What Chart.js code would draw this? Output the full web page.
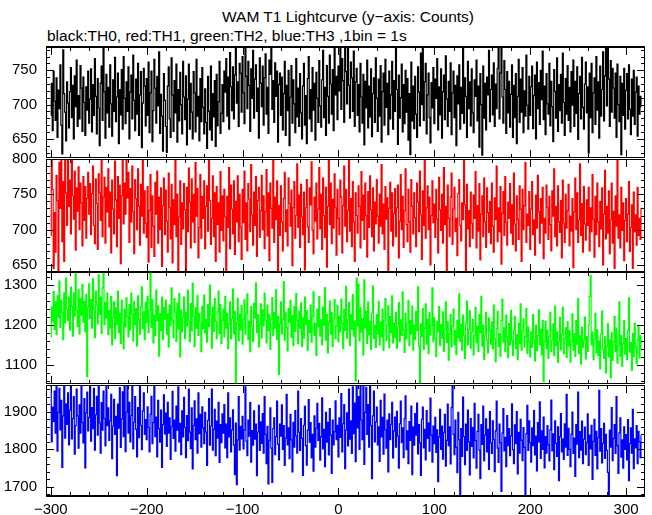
<!DOCTYPE html>
<html>
<head>
<meta charset="utf-8">
<script src="https://cdn.jsdelivr.net/npm/chart.js@4.4.0/dist/chart.umd.min.js"></script>
<style>
  html, body { margin: 0; padding: 0; background: #fff; }
  #wrap { position: relative; width: 652px; height: 515px; overflow: hidden; }
  #wrap canvas { position: absolute; left: 0; top: 0; }
  .ttl { position: absolute; font-family: "Liberation Sans", Arial, sans-serif; font-size: 15.5px; color: #000; white-space: nowrap; }
</style>
</head>
<body>
<div id="wrap">
  <div class="ttl" style="left:0;width:696px;text-align:center;top:8px;">WAM T1 Lightcurve (y&#8722;axis: Counts)</div>
  <div class="ttl" style="left:47px;top:27px;">black:TH0, red:TH1, green:TH2, blue:TH3 ,1bin = 1s</div>
  <canvas id="c0" width="652" height="515"></canvas>
  <canvas id="c1" width="652" height="515"></canvas>
  <canvas id="c2" width="652" height="515"></canvas>
  <canvas id="c3" width="652" height="515"></canvas>
</div>
<script>
// 1 bin = 1 s, first bin at -300 s
const tStart = -300;

// TH0 (black)
const th0 = [
  684, 731, 662, 748, 705, 677, 739, 652, 721, 694, 758, 670, 628, 780, 716, 689, 647, 733, 702, 666,
  719, 754, 681, 728, 650, 742, 697, 765, 668, 713, 679, 757, 724, 661, 740, 703, 655, 726, 692, 749,
  673, 708, 752, 660, 729, 684, 767, 712, 657, 738, 695, 640, 731, 756, 677, 784, 719, 651, 744, 688,
  725, 667, 758, 701, 654, 736, 690, 769, 675, 711, 746, 643, 722, 685, 751, 664, 770, 709, 672, 733,
  690, 755, 650, 718, 743, 679, 772, 706, 662, 737, 686, 760, 655, 714, 748, 637, 702, 753, 727, 669,
  738, 684, 762, 659, 717, 749, 646, 691, 766, 724, 673, 741, 698, 777, 658, 715, 683, 632, 745, 706,
  668, 630, 727, 755, 679, 652, 768, 714, 661, 735, 688, 759, 645, 722, 676, 747, 700, 657, 763, 711,
  678, 742, 641, 708, 759, 664, 731, 689, 650, 748, 717, 660, 766, 683, 712, 647, 738, 675, 754, 696,
  657, 723, 674, 636, 741, 690, 663, 756, 648, 716, 682, 735, 639, 744, 669, 704, 763, 658, 687, 729,
  675, 749, 718, 767, 683, 740, 664, 776, 726, 691, 755, 679, 743, 784, 702, 733, 668, 760, 746, 689,
  770, 717, 672, 784, 741, 694, 763, 728, 661, 752, 709, 779, 680, 737, 758, 690, 724, 651, 768, 731,
  697, 756, 670, 739, 774, 686, 725, 658, 765, 744, 784, 693, 735, 674, 761, 712, 749, 645, 729, 746,
  684, 740, 663, 716, 763, 655, 728, 691, 750, 640, 711, 757, 673, 736, 701, 659, 767, 682, 724, 668,
  745, 688, 650, 727, 760, 670, 713, 643, 738, 770, 679, 722, 661, 754, 692, 731, 648, 747, 709, 674,
  764, 698, 667, 736, 779, 681, 725, 655, 757, 712, 673, 772, 730, 686, 751, 662, 784, 714, 741, 678,
  756, 720, 784, 693, 767, 735, 674, 784, 748, 701, 784, 728, 680, 762, 739, 690, 778, 668, 733, 753,
  684, 729, 660, 760, 711, 673, 744, 641, 734, 695, 765, 666, 727, 682, 752, 653, 716, 739, 674, 768,
  709, 661, 737, 683, 757, 645, 719, 746, 670, 766, 696, 731, 656, 749, 679, 714, 763, 664, 735, 690,
  784, 722, 642, 743, 680, 710, 759, 660, 729, 672, 750, 689, 738, 648, 716, 627, 762, 676, 727, 665,
  741, 686, 652, 755, 718, 669, 775, 700, 784, 677, 733, 760, 657, 714, 746, 681, 644, 732, 695, 754,
  672, 737, 709, 767, 663, 726, 685, 752, 651, 719, 743, 678, 771, 708, 668, 734, 690, 761, 656, 717,
  749, 681, 728, 640, 742, 701, 758, 664, 725, 687, 784, 673, 739, 712, 652, 763, 694, 733, 669, 752,
  688, 659, 736, 712, 765, 676, 727, 638, 745, 700, 626, 756, 680, 731, 663, 740, 714, 779, 675, 722,
  743, 685, 761, 668, 730, 694, 753, 784, 679, 746, 784, 711, 673, 764, 722, 658, 748, 688, 734, 667,
  715, 758, 652, 728, 681, 745, 643, 712, 766, 674, 737, 689, 754, 659, 720, 683, 772, 699, 664, 741,
  684, 726, 756, 665, 713, 743, 650, 762, 694, 732, 671, 750, 707, 778, 678, 727, 656, 745, 701, 686,
  760, 669, 734, 697, 646, 751, 719, 680, 768, 661, 729, 691, 744, 673, 775, 703, 655, 738, 686, 757,
  677, 725, 660, 748, 699, 765, 668, 734, 687, 755, 649, 716, 741, 679, 769, 696, 664, 730, 762, 688,
  726, 629, 746, 681, 760, 659, 717, 739, 671, 770, 692, 733, 651, 756, 683, 722, 777, 676, 742, 784,
  698, 784, 737, 668, 764, 689, 753, 724, 680, 746, 652, 759, 700, 675, 741, 627, 731, 684, 753, 664,
  721, 745, 679, 758, 693, 656, 737, 683, 750, 671, 718, 740, 654, 727, 686, 712, 697
];

// TH1 (red)
const th1 = [
  692, 800, 757, 645, 724, 668, 777, 741, 640, 795, 730, 800, 683, 768, 655, 800, 752, 706, 800, 733,
  770, 694, 800, 748, 715, 783, 671, 759, 726, 789, 700, 766, 738, 677, 775, 713, 761, 688, 744, 781,
  722, 765, 693, 751, 790, 706, 680, 772, 737, 672, 779, 752, 713, 800, 690, 746, 774, 681, 760, 725,
  786, 704, 753, 667, 770, 729, 694, 797, 742, 676, 775, 716, 763, 652, 748, 800, 708, 766, 722, 800,
  745, 781, 682, 758, 711, 790, 725, 666, 771, 744, 700, 786, 733, 678, 764, 719, 800, 695, 755, 709,
  689, 761, 654, 727, 778, 675, 748, 705, 662, 767, 722, 783, 681, 746, 700, 759, 648, 734, 773, 693,
  756, 712, 668, 780, 731, 687, 764, 653, 742, 707, 800, 690, 750, 641, 718, 769, 679, 738, 701, 765,
  728, 640, 760, 697, 787, 739, 674, 772, 711, 750, 682, 795, 719, 758, 660, 703, 778, 688, 747, 716,
  769, 673, 733, 762, 698, 800, 741, 679, 716, 776, 690, 752, 655, 761, 707, 738, 668, 782, 699, 748,
  684, 757, 718, 640, 747, 703, 788, 673, 763, 729, 694, 769, 665, 740, 711, 776, 683, 750, 704, 658,
  757, 710, 783, 686, 738, 670, 765, 743, 697, 792, 721, 678, 753, 706, 775, 662, 741, 760, 689, 727,
  777, 700, 748, 673, 725, 785, 691, 752, 656, 766, 730, 702, 800, 682, 746, 714, 769, 640, 734, 692,
  762, 711, 670, 744, 781, 697, 728, 677, 773, 737, 705, 756, 649, 731, 768, 688, 720, 793, 703, 749,
  675, 764, 718, 693, 753, 643, 731, 771, 704, 682, 759, 735, 796, 699, 666, 746, 712, 766, 687, 729,
  788, 701, 750, 672, 773, 720, 689, 760, 647, 733, 800, 707, 766, 680, 743, 702, 779, 731, 664, 757,
  716, 693, 770, 746, 667, 734, 790, 705, 757, 683, 727, 800, 698, 744, 676, 768, 711, 655, 752, 720,
  695, 762, 733, 674, 782, 713, 749, 686, 766, 720, 661, 754, 703, 776, 728, 690, 759, 670, 739, 708,
  771, 719, 681, 750, 705, 792, 694, 736, 672, 761, 715, 745, 642, 730, 767, 698, 752, 677, 723, 758,
  690, 731, 763, 660, 712, 778, 700, 747, 675, 727, 786, 707, 683, 757, 711, 668, 771, 733, 694, 752,
  717, 676, 766, 739, 697, 783, 721, 658, 755, 706, 800, 688, 731, 762, 700, 746, 650, 720, 769, 710,
  736, 689, 757, 715, 667, 774, 728, 699, 750, 681, 788, 707, 733, 641, 763, 716, 690, 746, 780, 679,
  729, 760, 697, 716, 663, 751, 771, 706, 684, 738, 714, 800, 735, 640, 764, 701, 727, 676, 753, 709,
  688, 749, 716, 782, 674, 734, 698, 765, 657, 722, 748, 690, 773, 711, 675, 759, 724, 696, 740, 680,
  766, 705, 668, 745, 714, 790, 683, 731, 697, 761, 651, 723, 754, 692, 775, 710, 678, 739, 716, 765,
  695, 735, 679, 780, 708, 670, 748, 715, 686, 762, 729, 655, 757, 700, 734, 795, 682, 722, 706, 754,
  672, 729, 768, 693, 714, 664, 749, 702, 777, 725, 681, 744, 709, 760, 659, 716, 695, 763, 731, 686,
  747, 707, 670, 755, 719, 786, 690, 733, 677, 762, 711, 696, 741, 660, 770, 709, 682, 750, 702, 727,
  764, 677, 719, 698, 744, 646, 725, 773, 700, 752, 682, 714, 793, 692, 737, 668, 761, 708, 685, 742,
  706, 760, 670, 731, 697, 778, 715, 661, 747, 693, 766, 711, 676, 740, 701, 759, 650, 722, 784, 687,
  733, 695, 755, 666, 714, 766, 681, 726, 645, 748, 705, 800, 688, 721, 674, 760, 699, 738, 656, 713,
  744, 683, 722, 768, 669, 703, 735, 645, 753, 697, 721, 678, 760, 692, 716, 686, 730
];

// TH2 (green)
const th2 = [
  1170, 1245, 1208, 1284, 1189, 1258, 1176, 1273, 1219, 1310, 1194, 1262, 1231, 1163, 1281, 1205, 1318, 1240, 1211, 1270,
  1188, 1295, 1247, 1172, 1281, 1222, 1333, 1236, 1196, 1288, 1178, 1266, 1225, 1302, 1207, 1259, 1183, 1277, 1071, 1244,
  1303, 1216, 1264, 1192, 1316, 1239, 1168, 1285, 1250, 1203, 1326, 1227, 1270, 1179, 1293, 1333, 1201, 1257, 1218, 1280,
  1176, 1236, 1193, 1271, 1150, 1219, 1258, 1166, 1243, 1201, 1285, 1180, 1230, 1154, 1262, 1207, 1141, 1240, 1195, 1268,
  1221, 1170, 1251, 1188, 1280, 1227, 1160, 1259, 1200, 1241, 1147, 1273, 1214, 1177, 1246, 1296, 1191, 1233, 1163, 1257,
  1206, 1272, 1181, 1236, 1333, 1194, 1263, 1155, 1225, 1173, 1287, 1210, 1248, 1122, 1229, 1186, 1270, 1164, 1244, 1215,
  1262, 1177, 1228, 1145, 1250, 1199, 1293, 1212, 1168, 1266, 1232, 1159, 1255, 1190, 1279, 1120, 1238, 1183, 1219, 1270,
  1166, 1231, 1197, 1287, 1210, 1158, 1254, 1185, 1305, 1222, 1146, 1243, 1192, 1274, 1174, 1229, 1205, 1133, 1247, 1191,
  1275, 1180, 1215, 1157, 1252, 1196, 1300, 1224, 1142, 1245, 1184, 1266, 1209, 1166, 1233, 1285, 1179, 1251, 1154, 1212,
  1240, 1170, 1271, 1193, 1229, 1141, 1203, 1258, 1165, 1216, 1290, 1178, 1234, 1048, 1206, 1267, 1160, 1227, 1188, 1249,
  1152, 1214, 1263, 1177, 1230, 1278, 1163, 1210, 1133, 1246, 1197, 1158, 1255, 1218, 1305, 1181, 1226, 1145, 1202, 1253,
  1167, 1238, 1198, 1280, 1212, 1155, 1250, 1186, 1227, 1139, 1215, 1269, 1173, 1231, 1192, 1288, 1164, 1221, 1076, 1203,
  1258, 1178, 1214, 1309, 1162, 1232, 1194, 1135, 1241, 1207, 1262, 1169, 1225, 1148, 1246, 1184, 1279, 1211, 1153, 1234,
  1192, 1255, 1146, 1218, 1167, 1270, 1201, 1236, 1137, 1212, 1181, 1250, 1157, 1223, 1283, 1174, 1204, 1124, 1240, 1195,
  1271, 1172, 1213, 1151, 1245, 1199, 1294, 1162, 1226, 1130, 1206, 1260, 1178, 1231, 1146, 1217, 1264, 1166, 1198, 1248,
  1158, 1222, 1183, 1265, 1204, 1141, 1239, 1186, 1297, 1167, 1213, 1257, 1149, 1227, 1189, 1276, 1172, 1210, 1060, 1318,
  1197, 1302, 1160, 1243, 1182, 1216, 1125, 1313, 1193, 1234, 1154, 1258, 1175, 1210, 1139, 1230, 1298, 1166, 1200, 1144,
  1226, 1178, 1259, 1150, 1207, 1170, 1240, 1136, 1212, 1266, 1161, 1199, 1248, 1143, 1221, 1180, 1273, 1155, 1205, 1169,
  1232, 1142, 1195, 1256, 1158, 1213, 1174, 1283, 1187, 1131, 1229, 1165, 1204, 1262, 1148, 1211, 1178, 1247, 1137, 1200,
  1163, 1234, 1186, 1296, 1147, 1054, 1203, 1170, 1241, 1139, 1192, 1253, 1152, 1214, 1128, 1231, 1175, 1199, 1293, 1158,
  1218, 1166, 1121, 1209, 1183, 1246, 1148, 1201, 1167, 1233, 1134, 1190, 1258, 1156, 1208, 1112, 1177, 1226, 1145, 1197,
  1240, 1151, 1186, 1126, 1212, 1168, 1278, 1159, 1202, 1137, 1225, 1173, 1116, 1205, 1260, 1150, 1189, 1236, 1142, 1182,
  1215, 1125, 1173, 1244, 1155, 1196, 1134, 1226, 1181, 1272, 1147, 1200, 1114, 1175, 1232, 1162, 1130, 1218, 1186, 1152,
  1208, 1140, 1250, 1166, 1108, 1191, 1234, 1146, 1178, 1121, 1211, 1265, 1157, 1193, 1133, 1225, 1170, 1118, 1204, 1150,
  1237, 1161, 1124, 1187, 1222, 1141, 1176, 1113, 1205, 1154, 1253, 1137, 1184, 1216, 1145, 1171, 1241, 1129, 1195, 1158,
  1120, 1183, 1144, 1226, 1163, 1110, 1200, 1136, 1174, 1238, 1150, 1190, 1125, 1212, 1058, 1157, 1209, 1141, 1187, 1116,
  1170, 1232, 1133, 1162, 1203, 1123, 1247, 1148, 1183, 1106, 1159, 1219, 1138, 1177, 1244, 1128, 1165, 1193, 1119, 1208,
  1147, 1186, 1107, 1160, 1228, 1137, 1178, 1121, 1211, 1152, 1266, 1128, 1173, 1102, 1194, 1143, 1163, 1220, 1115, 1171,
  1134, 1199, 1272, 1324, 1151, 1182, 1113, 1164, 1229, 1130, 1188, 1124, 1160, 1090, 1178, 1235, 1139, 1116, 1170, 1080,
  1146, 1203, 1120, 1163, 1068, 1181, 1111, 1157, 1222, 1133, 1192, 1104, 1148, 1258, 1121, 1174, 1097, 1153, 1211, 1127,
  1166, 1114, 1187, 1268, 1132, 1156, 1086, 1179, 1121, 1205, 1145, 1103, 1162, 1196, 1117, 1173, 1140
];

// TH3 (blue)
const th3 = [
  1971, 1820, 1912, 1874, 1955, 1843, 1971, 1795, 1898, 1962, 1852, 1930, 1752, 1889, 1971, 1830, 1921, 1866, 1950, 1812,
  1904, 1968, 1828, 1882, 1940, 1787, 1863, 1960, 1889, 1803, 1918, 1843, 1971, 1871, 1817, 1935, 1751, 1897, 1952, 1849,
  1885, 1971, 1822, 1911, 1855, 1962, 1798, 1892, 1941, 1838, 1971, 1870, 1790, 1924, 1851, 1955, 1882, 1809, 1971, 1863,
  1910, 1824, 1876, 1946, 1775, 1862, 1933, 1840, 1888, 1730, 1920, 1856, 1964, 1805, 1881, 1953, 1834, 1971, 1794, 1899,
  1971, 1843, 1925, 1820, 1890, 1967, 1801, 1872, 1940, 1853, 1780, 1911, 1831, 1971, 1864, 1799, 1902, 1950, 1840, 1879,
  1826, 1913, 1858, 1793, 1893, 1941, 1815, 1871, 1970, 1834, 1886, 1780, 1930, 1855, 1819, 1904, 1752, 1866, 1945, 1841,
  1896, 1808, 1925, 1843, 1884, 1773, 1860, 1954, 1829, 1878, 1795, 1915, 1851, 1966, 1820, 1869, 1786, 1902, 1833, 1938,
  1858, 1778, 1890, 1823, 1960, 1846, 1802, 1910, 1748, 1864, 1929, 1826, 1881, 1790, 1950, 1842, 1893, 1806, 1913, 1857,
  1815, 1898, 1846, 1757, 1877, 1935, 1811, 1862, 1960, 1798, 1853, 1906, 1783, 1875, 1830, 1925, 1765, 1866, 1818, 1894,
  1843, 1919, 1804, 1867, 1778, 1950, 1833, 1884, 1793, 1852, 1905, 1812, 1733, 1870, 1706, 1825, 1940, 1798, 1861, 1828,
  1888, 1801, 1852, 1966, 1822, 1783, 1878, 1835, 1924, 1766, 1850, 1811, 1902, 1827, 1867, 1730, 1846, 1917, 1797, 1873,
  1816, 1895, 1790, 1940, 1840, 1762, 1861, 1708, 1824, 1910, 1803, 1712, 1855, 1884, 1786, 1834, 1928, 1813, 1772, 1867,
  1835, 1918, 1800, 1863, 1757, 1830, 1946, 1812, 1857, 1775, 1893, 1825, 1740, 1872, 1806, 1903, 1836, 1790, 1955, 1846,
  1797, 1882, 1829, 1731, 1864, 1914, 1810, 1758, 1851, 1932, 1819, 1871, 1777, 1840, 1742, 1889, 1806, 1856, 1922, 1824,
  1869, 1771, 1834, 1937, 1801, 1853, 1754, 1898, 1819, 1872, 1785, 1908, 1838, 1736, 1878, 1812, 1847, 1929, 1826, 1864,
  1780, 1884, 1832, 1948, 1793, 1868, 1919, 1749, 1851, 1897, 1809, 1960, 1827, 1876, 1789, 1966, 1842, 1923, 1767, 1971,
  1857, 1940, 1800, 1971, 1878, 1826, 1971, 1760, 1898, 1965, 1840, 1919, 1806, 1971, 1863, 1722, 1889, 1955, 1820, 1873,
  1912, 1812, 1860, 1768, 1930, 1833, 1885, 1787, 1947, 1852, 1803, 1878, 1740, 1894, 1826, 1866, 1925, 1777, 1849, 1886,
  1806, 1901, 1836, 1750, 1868, 1928, 1818, 1857, 1778, 1882, 1942, 1799, 1849, 1762, 1874, 1824, 1915, 1733, 1860, 1811,
  1895, 1838, 1923, 1788, 1866, 1817, 1731, 1880, 1912, 1804, 1853, 1772, 1903, 1829, 1870, 1795, 1936, 1838, 1766, 1862,
  1815, 1885, 1792, 1852, 1714, 1833, 1906, 1800, 1862, 1774, 1845, 1893, 1755, 1824, 1920, 1810, 1860, 1761, 1911, 1971,
  1840, 1786, 1878, 1805, 1738, 1898, 1826, 1680, 1855, 1781, 1939, 1834, 1759, 1867, 1797, 1904, 1820, 1732, 1882, 1808,
  1858, 1777, 1922, 1823, 1750, 1848, 1893, 1798, 1722, 1866, 1813, 1915, 1770, 1838, 1881, 1793, 1853, 1747, 1900, 1817,
  1789, 1876, 1826, 1741, 1849, 1928, 1803, 1765, 1867, 1818, 1688, 1843, 1908, 1796, 1832, 1754, 1890, 1810, 1855, 1783,
  1836, 1921, 1799, 1762, 1865, 1815, 1900, 1735, 1845, 1790, 1880, 1824, 1770, 1858, 1805, 1679, 1842, 1917, 1797, 1876,
  1818, 1766, 1857, 1810, 1903, 1785, 1835, 1743, 1871, 1820, 1926, 1776, 1849, 1800, 1886, 1751, 1834, 1790, 1863, 1812,
  1769, 1852, 1931, 1796, 1841, 1746, 1876, 1816, 1781, 1860, 1717, 1834, 1895, 1793, 1828, 1773, 1868, 1806, 1946, 1784,
  1856, 1800, 1754, 1840, 1899, 1789, 1830, 1728, 1866, 1814, 1952, 1778, 1847, 1798, 1875, 1762, 1827, 1859, 1786, 1818,
  1894, 1757, 1838, 1801, 1864, 1720, 1821, 1880, 1784, 1848, 1748, 1831, 1957, 1795, 1855, 1764, 1816, 1869, 1776, 1840,
  1797, 1739, 1678, 1851, 1806, 1911, 1770, 1829, 1866, 1789, 1940, 1810, 1736, 1844, 1884, 1779, 1825, 1750, 1860, 1800,
  1839, 1772, 1879, 1717, 1815, 1857, 1790, 1906, 1749, 1828, 1804, 1863, 1762, 1848, 1820, 1778, 1836
];

// 目盛りラベル
const xTickLabels = [-300, -200, -100, 0, 100, 200, 300];
const yTicks0 = [650, 700, 750];
const yTicks1 = [650, 700, 750, 800];
const yTicks2 = [1100, 1200, 1300];
const yTicks3 = [1700, 1800, 1900];

// パネル設定
const panels = [
  { data: th0, ticks: yTicks0, color: '#000000', yMin: 622, yMax: 784, major: 50, minor: 10, top: 47, bottom: 158 },
  { data: th1, ticks: yTicks1, color: '#ff0000', yMin: 640, yMax: 800, major: 50, minor: 10, top: 159, bottom: 272 },
  { data: th2, ticks: yTicks2, color: '#00ff00', yMin: 1052, yMax: 1333, major: 100, minor: 20, top: 272, bottom: 384 },
  { data: th3, ticks: yTicks3, color: '#0000ff', yMin: 1676, yMax: 1971, major: 100, minor: 20, top: 385, bottom: 496 }
];

const FONT = { family: '"Liberation Sans", Arial, sans-serif', size: 15 };
const X_MIN = -305, X_MAX = 319.7;
const PLOT_LEFT = 46, PLOT_RIGHT = 645;

// 枠と内向きの目盛りを描く
const frameTicks = {
  id: 'frameTicks',
  afterDatasetsDraw(chart, args, opts) {
    const { ctx, chartArea: a, scales: { x, y } } = chart;
    ctx.save();
    ctx.strokeStyle = '#000';
    ctx.lineWidth = 1;
    ctx.strokeRect(a.left + 0.5, a.top + 0.5, a.right - a.left - 1, a.bottom - a.top - 1);
    // 外側の上下の線は太め
    if (opts.first) ctx.fillRect(a.left, a.top - 1, a.right - a.left, 2);
    if (opts.last) ctx.fillRect(a.left, a.bottom - 1, a.right - a.left, 2);
    ctx.beginPath();
    for (let v = -300; v <= 300; v += 20) {
      const px = Math.round(x.getPixelForValue(v)) + 0.5;
      const len = v % 100 === 0 ? 8 : 4;
      ctx.moveTo(px, a.bottom); ctx.lineTo(px, a.bottom - len);
      ctx.moveTo(px, a.top); ctx.lineTo(px, a.top + len);
    }
    for (let v = Math.ceil(y.min / opts.minor) * opts.minor; v <= y.max; v += opts.minor) {
      const py = Math.round(y.getPixelForValue(v)) + 0.5;
      const len = v % opts.major === 0 ? 8 : 4;
      ctx.moveTo(a.left, py); ctx.lineTo(a.left + len, py);
      ctx.moveTo(a.right, py); ctx.lineTo(a.right - len, py);
    }
    ctx.stroke();
    ctx.restore();
  }
};

function makePanel(canvasId, p, idx) {
  const showX = idx === panels.length - 1;
  const pts = p.data.map((v, i) => ({ x: tStart + i, y: v }));
  return new Chart(document.getElementById(canvasId), {
    type: 'line',
    data: {
      datasets: [{
        data: pts,
        borderColor: p.color,
        borderWidth: 1.2,
        pointRadius: 0,
        stepped: 'middle',
        fill: false
      }]
    },
    options: {
      responsive: false,
      animation: false,
      events: [],
      layout: { padding: { top: p.top, bottom: showX ? 0 : 515 - p.bottom, left: 0, right: 652 - PLOT_RIGHT } },
      plugins: {
        legend: { display: false },
        tooltip: { enabled: false },
        frameTicks: { major: p.major, minor: p.minor, first: idx === 0, last: showX }
      },
      scales: {
        x: {
          type: 'linear',
          min: X_MIN,
          max: X_MAX,
          display: showX,
          grid: { display: false, drawTicks: false },
          border: { display: false },
          afterBuildTicks: (s) => { s.ticks = xTickLabels.map(v => ({ value: v })); },
          afterFit: (s) => { if (showX) s.height = 515 - p.bottom; },
          ticks: {
            color: '#000',
            font: FONT,
            padding: 5,
            maxRotation: 0,
            autoSkip: false,
            callback: (v) => String(v).replace('-', '\u2212')
          }
        },
        y: {
          type: 'linear',
          min: p.yMin,
          max: p.yMax,
          grid: { display: false, drawTicks: false },
          border: { display: false },
          afterBuildTicks: (s) => { s.ticks = p.ticks.map(v => ({ value: v })); },
          afterFit: (s) => { s.width = PLOT_LEFT; },
          ticks: {
            color: '#000',
            font: FONT,
            padding: 9,
            autoSkip: false,
            callback: (v) => String(v)
          }
        }
      }
    },
    plugins: [frameTicks]
  });
}

panels.forEach((p, i) => makePanel('c' + i, p, i));
</script>
</body>
</html>
